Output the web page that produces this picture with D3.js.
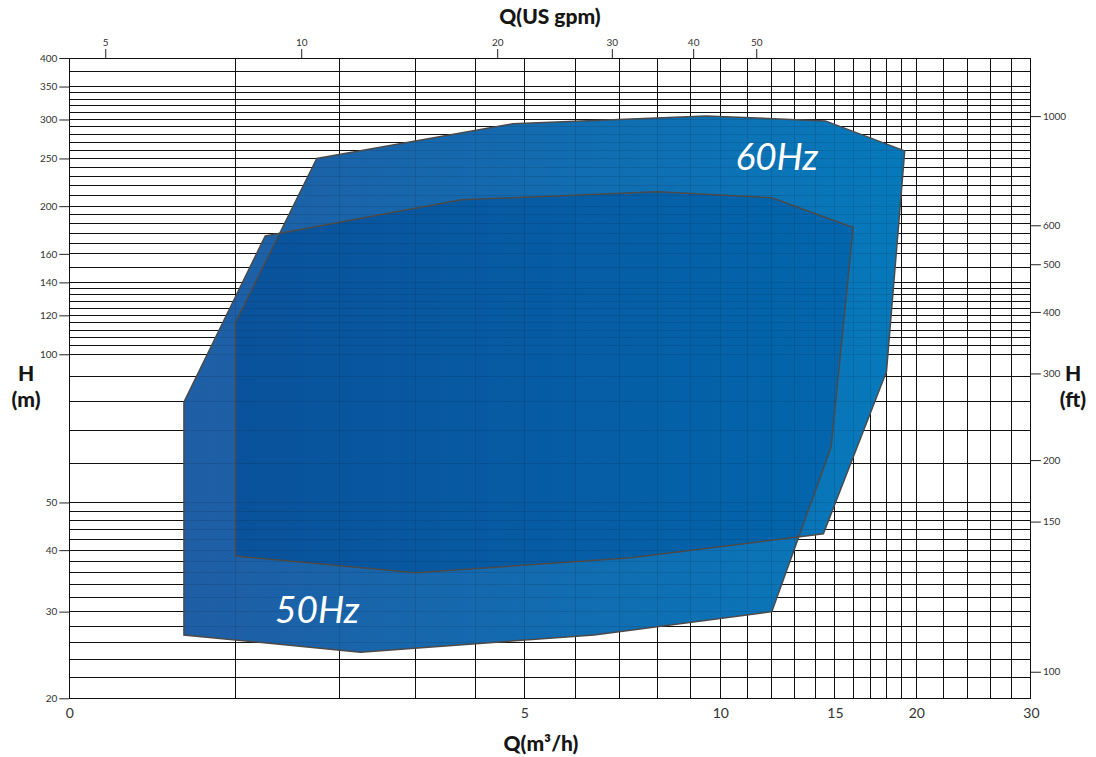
<!DOCTYPE html>
<html>
<head>
<meta charset="utf-8">
<script src="https://cdn.jsdelivr.net/npm/d3@7"></script>
<style>
  body { margin: 0; background: #fff; }
  svg { display: block; }
  .tick text { font-family: Lato, "DejaVu Sans", sans-serif; fill: #333; }
  .title { font-family: Lato, "DejaVu Sans", sans-serif; font-weight: 900; fill: #151515; }
  .hz { font-family: Lato, "DejaVu Sans", sans-serif; font-weight: 400; font-style: italic; fill: #fff; }
</style>
</head>
<body>
<svg width="1096" height="757"></svg>
<script>
// axis ticks
var qTicks = [1, 5, 10, 15, 20, 30];
var qTickLabels = ["0", "5", "10", "15", "20", "30"];
var gpmTicks = [5, 10, 20, 30, 40, 50];
var hTicks = [20, 30, 40, 50, 100, 120, 140, 160, 200, 250, 300, 350, 400];
// right axis: positions in ft as printed (the "100" mark sits lower than 100 ft on the original)
var ftTicks = [74.3, 150, 200, 300, 400, 500, 600, 1000];
var ftTickLabels = ["100", "150", "200", "300", "400", "500", "600", "1000"];

// grid lines (as drawn on the chart paper)
var qGrid = [1, 1.8, 2.6, 3.4, 4.2, 5, 6, 7, 8, 9, 10, 11, 12, 13, 14, 15, 16, 17, 18, 19, 20, 22, 24, 26, 28, 30];
var hGrid = [20, 22, 24, 26, 28, 30, 32, 34, 36, 38, 40, 42, 44, 46, 48, 50, 60, 70, 80, 90,
  100, 104, 108, 112, 116, 120, 124, 128, 132, 136, 140, 150, 160, 168, 176, 184, 192,
  200, 210, 220, 230, 240, 250, 260, 270, 280, 290, 300, 310, 320, 330, 340, 350, 375, 400];

// 50Hz working range (Q m3/h, H m)
var q50 = [1.5, 2.0, 4.0, 8.0, 12.0, 16.0, 14.8, 12.0, 6.4, 2.8, 1.5];
var h50 = [80, 174, 206, 214, 208, 181, 64.8, 30, 26.9, 24.8, 26.9];

// 60Hz working range (Q m3/h, H m)
var q60 = [1.8, 2.4, 4.8, 9.5, 14.5, 19.2, 18.0, 14.4, 7.3, 3.4, 1.8];
var h60 = [116, 250, 294, 305, 298, 259, 92.2, 43.2, 38.6, 36, 38.9];

(function() {
  var svg = d3.select('svg');
  var M3H_TO_GPM = 4.4029;
  var M_TO_FT = 3.28084;

  var x = d3.scaleLog().domain([1, 30]).range([69.3, 1030.9]);
  var y = d3.scaleLog().domain([20, 400]).range([698.3, 58]);
  var xGpm = d3.scaleLog().domain([1 * M3H_TO_GPM, 30 * M3H_TO_GPM]).range(x.range());
  var yFt = d3.scaleLog().domain([20 * M_TO_FT, 400 * M_TO_FT]).range(y.range());

  var pts50 = d3.zip(q50, h50);
  var pts60 = d3.zip(q60, h60);
  var line = d3.line().x(function(d) { return x(d[0]); }).y(function(d) { return y(d[1]); });
  function closed(pts) { return line(pts) + 'Z'; }

  // gradients
  var defs = svg.append('defs');
  function gradient(id, c1, c2) {
    var g = defs.append('linearGradient').attr('id', id)
      .attr('gradientUnits', 'userSpaceOnUse')
      .attr('x1', x(1.5)).attr('x2', x(19.2)).attr('y1', 0).attr('y2', 0);
    g.append('stop').attr('offset', 0).attr('stop-color', c1);
    g.append('stop').attr('offset', 1).attr('stop-color', c2);
  }
  gradient('light', '#1f5ea5', '#0679bb');
  gradient('dark', '#0a509a', '#0268ae');
  defs.append('clipPath').attr('id', 'clip50').append('path').attr('d', closed(pts50));

  function drawGrid(opacity) {
    var g = svg.append('g')
      .attr('stroke', '#111')
      .attr('stroke-width', 1)
      .attr('stroke-opacity', opacity)
      .attr('shape-rendering', 'crispEdges');
    g.selectAll('line.v').data(qGrid).join('line')
      .attr('x1', function(d) { return x(d); }).attr('x2', function(d) { return x(d); })
      .attr('y1', y(20)).attr('y2', y(400));
    g.selectAll('line.h').data(hGrid).join('line')
      .attr('y1', function(d) { return y(d); }).attr('y2', function(d) { return y(d); })
      .attr('x1', x(1)).attr('x2', x(30));
  }
  drawGrid(1);

  // fills
  svg.append('path').attr('d', closed(pts50)).attr('fill', 'url(#light)');
  svg.append('path').attr('d', closed(pts60)).attr('fill', 'url(#light)');
  svg.append('path').attr('d', closed(pts60)).attr('fill', 'url(#dark)').attr('clip-path', 'url(#clip50)');

  // faint grid showing through the fill
  drawGrid(0.12);

  // outlines
  [pts50, pts60].forEach(function(p) {
    svg.append('path').attr('d', closed(p))
      .attr('fill', 'none')
      .attr('stroke', '#4a4a4a')
      .attr('stroke-width', 1.5)
      .attr('stroke-linejoin', 'miter');
  });

  // axes
  function clean(g) { g.select('.domain').remove(); g.selectAll('.tick line').attr('stroke', '#222'); }

  svg.append('g').attr('transform', 'translate(' + x(1) + ',0)')
    .call(d3.axisLeft(y).tickValues(hTicks).tickFormat(d3.format('d')).tickSize(10).tickPadding(2))
    .call(clean)
    .selectAll('text').style('font-size', '10px');

  svg.append('g').attr('transform', 'translate(' + x(30) + ',0)')
    .call(d3.axisRight(yFt).tickValues(ftTicks).tickFormat(function(d, i) { return ftTickLabels[i]; }).tickSize(10).tickPadding(2))
    .call(clean)
    .selectAll('text').style('font-size', '10px');

  svg.append('g').attr('transform', 'translate(0,' + y(400) + ')')
    .call(d3.axisTop(xGpm).tickValues(gpmTicks).tickFormat(d3.format('d')).tickSize(9).tickPadding(3))
    .call(clean)
    .selectAll('text').style('font-size', '10px');

  svg.append('g').attr('transform', 'translate(0,' + y(20) + ')')
    .call(d3.axisBottom(x).tickValues(qTicks).tickFormat(function(d, i) { return qTickLabels[i]; }).tickSize(0).tickPadding(10))
    .call(clean)
    .selectAll('text').style('font-size', '14px').style('fill', '#333');

  // titles
  svg.append('text').attr('class', 'title').attr('x', 550).attr('y', 24)
    .attr('text-anchor', 'middle').style('font-size', '21px').text('Q(US gpm)');
  svg.append('text').attr('class', 'title').attr('x', 541).attr('y', 751)
    .attr('text-anchor', 'middle').style('font-size', '21px').text('Q(m³/h)');
  svg.append('text').attr('class', 'title').attr('x', 26).attr('y', 381)
    .attr('text-anchor', 'middle').style('font-size', '21px').text('H');
  svg.append('text').attr('class', 'title').attr('x', 26).attr('y', 407)
    .attr('text-anchor', 'middle').style('font-size', '21px').text('(m)');
  svg.append('text').attr('class', 'title').attr('x', 1073).attr('y', 381)
    .attr('text-anchor', 'middle').style('font-size', '21px').text('H');
  svg.append('text').attr('class', 'title').attr('x', 1073).attr('y', 407)
    .attr('text-anchor', 'middle').style('font-size', '21px').text('(ft)');

  // frequency labels
  svg.append('text').attr('class', 'hz').attr('x', x(10.55)).attr('y', y(237))
    .style('font-size', '37px').text('60Hz');
  svg.append('text').attr('class', 'hz').attr('x', x(2.07)).attr('y', y(28.4))
    .style('font-size', '37px').text('50Hz');
})();
</script>
</body>
</html>
